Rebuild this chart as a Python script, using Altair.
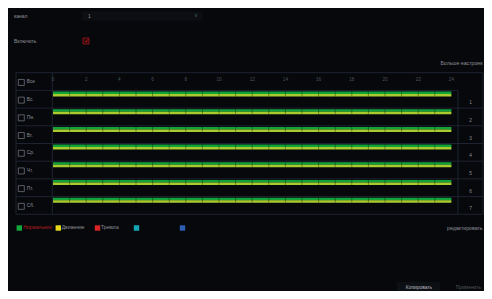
import altair as alt
import pandas as pd

# ---------------- data ----------------
row_labels = ["Все", "Вс.", "Пн.", "Вт.", "Ср.", "Чт.", "Пт.", "Сб."]
row_index = [0, 1, 2, 3, 4, 5, 6, 7]
day_numbers = ["1", "2", "3", "4", "5", "6", "7"]
day_index = [1, 2, 3, 4, 5, 6, 7]
hour_ticks = [0, 2, 4, 6, 8, 10, 12, 14, 16, 18, 20, 22, 24]
hour_dividers = list(range(1, 24))

# schedule: each day has normal + motion recording over the whole day
sched_day = [1, 2, 3, 4, 5, 6, 7, 1, 2, 3, 4, 5, 6, 7]
sched_type = ["Нормальное"] * 7 + ["Движение"] * 7
sched_start = [0] * 14
sched_end = [24] * 14

legend_names = ["Нормальное", "Движение", "Тревога", "", ""]
legend_colors = ["#14a83c", "#e8d81c", "#d82424", "#14a6b2", "#2c5eb4"]
legend_text_colors = ["#b51c20", "#8d9096", "#8d9096", "#8d9096", "#8d9096"]

# ---------------- style ----------------
BG = "#07080c"
GRID = "#1d2430"
TXT = "#8d9096"
DIM = "#4e535a"
FONT = "Liberation Sans"
BAR_COLORS = ["#13a33b", "#a9cb2f"]

xs = alt.Scale(domain=[0, 24], range=[45, 443.4], nice=False, zero=False)
ys = alt.Scale(domain=[0, 8], range=[64.7, 206.3], nice=False, zero=False)

layers = []

def txt(text, x, y, color=TXT, align="left", size=5):
    return alt.Chart(pd.DataFrame({"t": [text]})).mark_text(
        align=align, baseline="middle", font=FONT, fontSize=size, color=color
    ).encode(x=alt.value(x), y=alt.value(y), text="t:N")

def box(x, x2, y, y2, fill, stroke=None, sw=0):
    kw = dict(color=fill)
    if stroke:
        kw.update(stroke=stroke, strokeWidth=sw)
    return alt.Chart(pd.DataFrame({"a": [0]})).mark_rect(**kw).encode(
        x=alt.value(x), x2=alt.value(x2), y=alt.value(y), y2=alt.value(y2)
    )

# top controls
layers.append(box(74, 194, 3.5, 12.5, "#0c0e13"))
layers.append(txt("канал", 6, 8))
layers.append(txt("1", 80, 8))
layers.append(txt("v", 188, 8, color="#4f7c76", align="center", size=4.5))
layers.append(txt("Включить", 6, 33))
layers.append(box(75, 81, 30, 36, "#2a0709", stroke="#a3161b", sw=0.8))
layers.append(txt("✓", 78, 33, color="#d0262b", align="center", size=5.5))
layers.append(txt("Больше настроек", 474.5, 55, align="right", size=5.2))

# grid
def hrule(vals, x, x2):
    return alt.Chart(pd.DataFrame({"b": vals})).mark_rule(color=GRID, strokeWidth=1).encode(
        y=alt.Y("b:Q", scale=ys, axis=None), x=alt.value(x), x2=alt.value(x2)
    )

def vrule(x, b0, b1):
    return alt.Chart(pd.DataFrame({"b0": [b0], "b1": [b1]})).mark_rule(color=GRID, strokeWidth=1).encode(
        x=alt.value(x), y=alt.Y("b0:Q", scale=ys, axis=None), y2="b1:Q"
    )

layers.append(hrule([0, 8], 8, 475))
layers.append(hrule([1, 2, 3, 4, 5, 6, 7], 8, 450))
layers.append(hrule([2, 3, 4, 5, 6, 7], 450, 475))
layers.append(vrule(8, 0, 8))
layers.append(vrule(44.3, 0, 8))
layers.append(vrule(450, 1, 8))
layers.append(vrule(475, 0, 8))

# schedule bars
sched = pd.DataFrame({"day": sched_day, "type": sched_type, "start": sched_start, "end": sched_end})
bars = alt.Chart(sched).transform_calculate(
    y0="datum.day + (datum.type == 'Нормальное' ? 0.062 : 0.203)",
    y1="datum.day + (datum.type == 'Нормальное' ? 0.203 : 0.345)",
).mark_rect().encode(
    x=alt.X("start:Q", scale=xs, axis=None), x2="end:Q",
    y=alt.Y("y0:Q", scale=ys, axis=None), y2="y1:Q",
    color=alt.Color("type:N", scale=alt.Scale(domain=["Нормальное", "Движение"], range=BAR_COLORS), legend=None),
)
layers.append(bars)

div = pd.DataFrame([(h, d) for d in day_index for h in hour_dividers], columns=["h", "day"])
dividers = alt.Chart(div).transform_calculate(
    y0="datum.day + 0.062", y1="datum.day + 0.345"
).mark_rule(color="#000000", opacity=0.35, strokeWidth=1).encode(
    x=alt.X("h:Q", scale=xs, axis=None),
    y=alt.Y("y0:Q", scale=ys, axis=None), y2="y1:Q",
)
layers.append(dividers)

# hour labels
hours = pd.DataFrame({"h": hour_ticks})
layers.append(alt.Chart(hours).transform_calculate(yy="0.41").mark_text(
    font=FONT, fontSize=4.6, color=DIM, baseline="middle", align="center"
).encode(x=alt.X("h:Q", scale=xs, axis=None), y=alt.Y("yy:Q", scale=ys, axis=None), text="h:N"))

# row labels with checkboxes
rows = pd.DataFrame({"r": row_index, "label": row_labels})
layers.append(alt.Chart(rows).transform_calculate(yy="datum.r + 0.55").mark_point(
    shape="square", filled=False, size=36, color="#9a9ea6", strokeWidth=0.8
).encode(x=alt.value(13.3), y=alt.Y("yy:Q", scale=ys, axis=None)))
layers.append(alt.Chart(rows).transform_calculate(yy="datum.r + 0.55").mark_text(
    font=FONT, fontSize=4.8, color=TXT, baseline="middle", align="left"
).encode(x=alt.value(18.7), y=alt.Y("yy:Q", scale=ys, axis=None), text="label:N"))

# day numbers on the right
nums = pd.DataFrame({"d": day_index, "n": day_numbers})
layers.append(alt.Chart(nums).transform_calculate(yy="datum.d + 0.72").mark_text(
    font=FONT, fontSize=4.8, color=TXT, baseline="middle", align="center"
).encode(x=alt.value(462.5), y=alt.Y("yy:Q", scale=ys, axis=None), text="n:N"))

# legend
leg_sq_x = [11.3, 50.3, 89.5, 128.5, 174.5]
leg_tx_x = [15.3, 53.8, 93]
for i, (name, col) in enumerate(zip(legend_names, legend_colors)):
    layers.append(box(leg_sq_x[i] - 2.7, leg_sq_x[i] + 2.7, 217.3, 222.7, col))
    if name:
        layers.append(txt(name, leg_tx_x[i], 220, color=legend_text_colors[i], size=4.9))
layers.append(txt("редактировать", 474.5, 220, align="right", size=5.2))

# bottom buttons
layers.append(box(389, 432, 274, 283, "#0c0f14"))
layers.append(txt("Копировать", 411, 280, color="#b8bbc0", align="center", size=4.9))
layers.append(txt("Применить", 460.5, 280, color=DIM, align="center", size=4.9))

chart = alt.layer(*layers).properties(
    width=476, height=283, background=BG, padding=0,
    autosize=alt.AutoSizeParams(type="none"),
).configure_view(stroke=None)

chart.save("out.html", embed_options={"renderer": "svg", "actions": False})
